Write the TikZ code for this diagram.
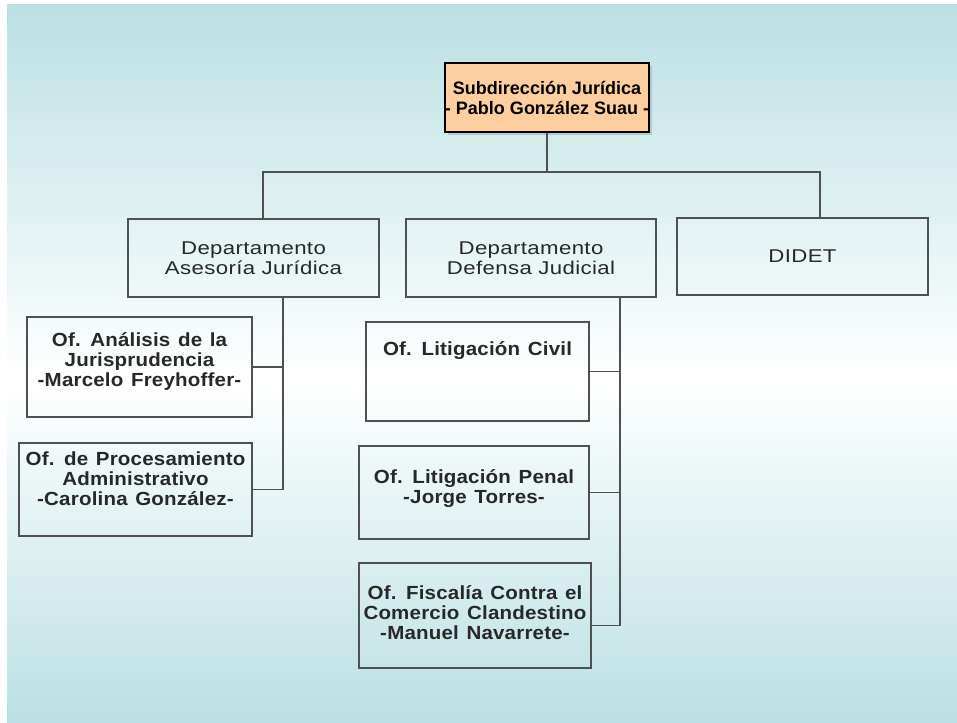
\documentclass[tikz,border=0pt]{standalone}
\usepackage{fontspec}
\setmainfont{Liberation Sans}
\newfontfamily\headfont{Liberation Sans}
\newfontfamily\deptfont[FakeStretch=1.2,LetterSpace=2]{Liberation Sans}
\newfontfamily\offfont[FakeStretch=1.08,LetterSpace=1,WordSpace=1.3]{Liberation Sans}
\usetikzlibrary{shadows}

\definecolor{fondoAzul}{RGB}{187,224,227}
\definecolor{jefeNaranja}{RGB}{253,207,158}
\definecolor{bordeGris}{RGB}{80,80,80}
\definecolor{textoGris}{RGB}{40,40,40}

\tikzset{	PixelCoord/.style={x=1pt,y=-1pt},
		jefebox/.style={draw=black,line width=1.3pt,fill=jefeNaranja,align=center,
				font=\headfont\bfseries\fontsize{18}{20}\selectfont,
				drop shadow={shadow xshift=3pt,shadow yshift=-3pt,fill=black!35},
				inner sep=0pt},
		deptbox/.style={draw=bordeGris,line width=1.3pt,align=center,inner sep=0pt,
				text=textoGris,font=\deptfont\fontsize{18.5}{20}\selectfont},
		ofbox/.style={draw=bordeGris,line width=1.3pt,align=center,inner sep=0pt,
				text=textoGris,font=\offfont\bfseries\fontsize{19}{20}\selectfont},
		linea/.style={draw=bordeGris,line width=1.3pt}
		}

\begin{document}
\begin{tikzpicture}[PixelCoord]
	\useasboundingbox (0,0) rectangle (957,722);

	% fondo con degradado
	\fill[white] (0,0) rectangle (957,722);
	\shade[top color=fondoAzul,bottom color=white] (7,5) rectangle (957,380);
	\shade[top color=white,bottom color=fondoAzul] (7,380) rectangle (957,722);

	% jefatura y departamentos
	\node[jefebox,minimum width=204pt,minimum height=69pt] (jefe) at (547,97.5)
		{Subdirección Jurídica\\- Pablo González Suau -};

	\node[deptbox,minimum width=251pt,minimum height=78pt] (asesoria) at (253.5,258)
		{Departamento\\Asesoría Jurídica};
	\node[deptbox,minimum width=250pt,minimum height=78pt] (defensa) at (531,258)
		{Departamento\\Defensa Judicial};
	\node[deptbox,minimum width=251pt,minimum height=77pt] (didet) at (802.5,256.5)
		{DIDET};

	% oficinas
	\node[ofbox,minimum width=225pt,minimum height=100pt,text depth=14pt] (analisis) at (139.5,367)
		{Of. Análisis de la\\Jurisprudencia\\-Marcelo Freyhoffer-};
	\node[ofbox,minimum width=233pt,minimum height=93pt,text depth=22pt] (procesam) at (135.5,489.5)
		{Of. de Procesamiento\\Administrativo\\-Carolina González-};
	\node[ofbox,minimum width=223pt,minimum height=99pt] (civil) at (477.5,371.5)
		{Of. Litigación Civil\\ \strut\\ \strut};
	\node[ofbox,minimum width=230pt,minimum height=93pt,text depth=12pt] (penal) at (474,492.5)
		{Of. Litigación Penal\\-Jorge Torres-};
	\node[ofbox,minimum width=232pt,minimum height=105pt,text depth=6pt] (fiscalia) at (475,615.5)
		{Of. Fiscalía Contra el\\Comercio Clandestino\\-Manuel Navarrete-};

	% lineas de dependencia
	\coordinate (bus) at (547,172);
	\coordinate (busL) at (263,172);
	\coordinate (busR) at (820,172);
	\coordinate (troncoA) at (283,0);
	\coordinate (troncoD) at (620,0);

	\draw[linea] (jefe.south)--(bus);
	\draw[linea] (busL |- asesoria.north)--(busL)--(busR)--(busR |- didet.north);

	\draw[linea] (asesoria.south -| troncoA) |- (procesam.east);
	\draw[linea] (analisis.east)--(analisis.east -| troncoA);

	\draw[linea] (defensa.south -| troncoD) |- ([yshift=-10pt]fiscalia.east);
	\draw[linea] (civil.east)--(civil.east -| troncoD);
	\draw[linea] (penal.east)--(penal.east -| troncoD);
\end{tikzpicture}
\end{document}
